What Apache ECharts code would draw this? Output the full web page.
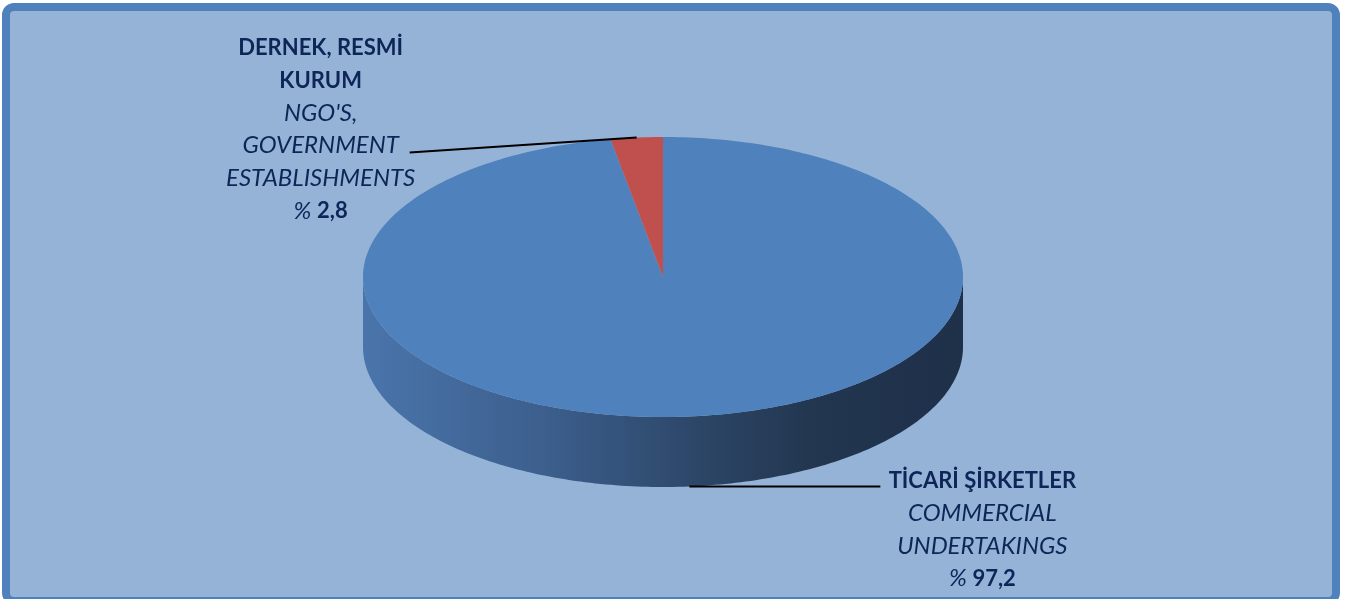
<!DOCTYPE html>
<html>
<head>
<meta charset="utf-8">
<title>Pie</title>
<script src="https://cdn.jsdelivr.net/npm/echarts@6/dist/echarts.min.js"></script>
<style>
  html, body { margin: 0; padding: 0; background: #fff; }
  #main { width: 1345px; height: 599px; }
</style>
</head>
<body>
<div id="main"></div>
<script>
// data
var namesTr = ['TİCARİ ŞİRKETLER', 'DERNEK, RESMİ\nKURUM'];
var namesEn = ['COMMERCIAL\nUNDERTAKINGS', "NGO'S,\nGOVERNMENT\nESTABLISHMENTS"];
var shares = [97.2, 2.8];
var colors = ['#4F81BD', '#C0504D'];

// geometry of the tilted pie
var cx = 663, cy = 277, rx = 300, ry = 140, depth = 70;
var textColor = '#0e2558';
var fontFamily = 'Lato';

var total = shares.reduce(function (a, b) { return a + b; }, 0);

// angle in degrees, clockwise from 12 o'clock
function pt(a, dy) {
  var r = a * Math.PI / 180;
  return [cx + rx * Math.sin(r), cy - ry * Math.cos(r) + (dy || 0)];
}

function arc(a0, a1, dy) {
  var pts = [];
  var n = Math.max(2, Math.ceil(Math.abs(a1 - a0)));
  for (var i = 0; i <= n; i++) {
    pts.push(pt(a0 + (a1 - a0) * i / n, dy));
  }
  return pts;
}

function labelRich(idx) {
  var lines = [];
  namesTr[idx].split('\n').forEach(function (s) { lines.push('{b|' + s + '}'); });
  namesEn[idx].split('\n').forEach(function (s) { lines.push('{i|' + s + '}'); });
  lines.push('{i|% }{b|' + String(shares[idx]).replace('.', ',') + '}');
  return lines.join('\n');
}

var rich = {
  b: { fontFamily: fontFamily, fontWeight: 'bold', fontSize: 22, lineHeight: 32.6, fill: textColor },
  i: { fontFamily: fontFamily, fontStyle: 'italic', fontSize: 24, lineHeight: 32.6, fill: textColor }
};

function renderItem(params, api) {
  var idx = params.dataIndex;
  var before = 0;
  for (var k = 0; k < idx; k++) before += shares[k];
  var a0 = before / total * 360;
  var a1 = (before + api.value(0)) / total * 360;
  var mid = (a0 + a1) / 2;
  var children = [];

  // top face
  var top = [[cx, cy]].concat(arc(a0, a1, 0));
  children.push({
    type: 'polygon',
    z2: 10,
    shape: { points: top },
    style: { fill: colors[idx], stroke: null }
  });

  // front side wall
  var s = Math.max(a0, 90), e = Math.min(a1, 270);
  if (e > s) {
    var side = arc(s, e, 0).concat(arc(e, s, depth));
    children.push({
      type: 'polygon',
      z2: 5,
      shape: { points: side },
      style: {
        fill: {
          type: 'linear', x: cx - rx, y: 0, x2: cx + rx, y2: 0, global: true,
          colorStops: [
            { offset: 0, color: '#4a75ab' },
            { offset: 0.3, color: '#3c5f8d' },
            { offset: 0.55, color: '#2d4769' },
            { offset: 0.75, color: '#22364f' },
            { offset: 1, color: '#1f3049' }
          ]
        },
        stroke: null
      }
    });
  }

  // leader line + label
  var front = mid > 90 && mid < 270;
  var anchor = front ? pt(mid, depth) : pt(mid, 0);
  var end, tx, ty;
  if (front) {
    end = [anchor[0] + 191, anchor[1]];
    tx = end[0] + 102; ty = end[1] - 22;
  } else {
    end = [anchor[0] - 227, anchor[1] + 15];
    tx = end[0] - 89; ty = end[1] - 121;
  }
  children.push({
    type: 'line',
    z2: 20,
    shape: { x1: anchor[0], y1: anchor[1], x2: end[0], y2: end[1] },
    style: { stroke: '#000', lineWidth: 2 }
  });
  children.push({
    type: 'text',
    z2: 20,
    style: {
      x: tx, y: ty,
      text: labelRich(idx),
      rich: rich,
      fill: textColor,
      align: 'center',
      verticalAlign: 'top'
    }
  });

  return { type: 'group', children: children };
}

var chart = echarts.init(document.getElementById('main'));
chart.setOption({
  animation: false,
  graphic: [{
    type: 'rect',
    z: -10,
    shape: { x: 6, y: 7, width: 1330, height: 594, r: 8 },
    style: { fill: '#95B3D7', stroke: '#4F81BD', lineWidth: 8 }
  }],
  series: [{
    type: 'custom',
    coordinateSystem: 'none',
    renderItem: renderItem,
    data: shares.map(function (v, i) { return { value: v, name: namesTr[i] }; })
  }]
});
</script>
</body>
</html>
